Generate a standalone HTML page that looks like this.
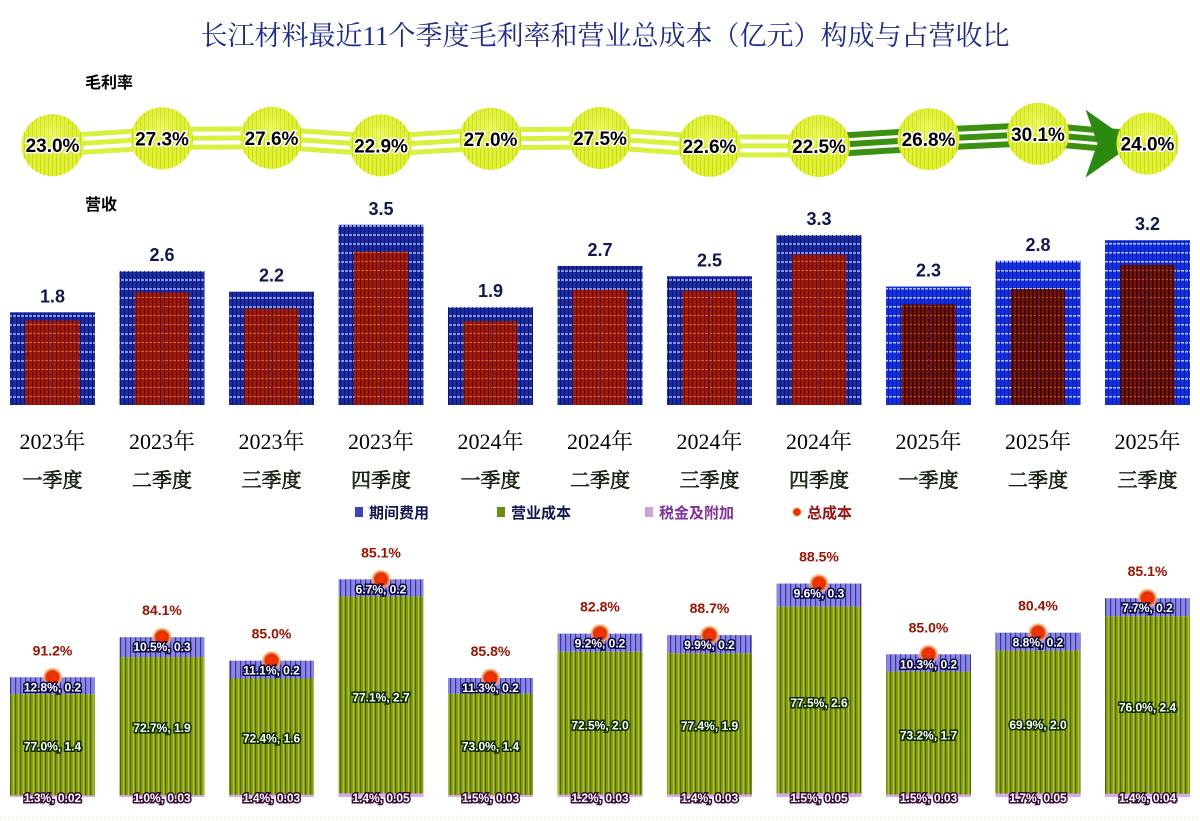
<!DOCTYPE html>
<html><head><meta charset="utf-8">
<style>
html,body{margin:0;padding:0;background:#fff;}
svg{display:block;font-family:"Liberation Sans","Noto Sans CJK SC",sans-serif;}
</style></head>
<body>
<svg id="chart" width="1200" height="821" viewBox="0 0 1200 821" xmlns="http://www.w3.org/2000/svg">
<defs>
<pattern id="blueP" width="4" height="9" patternUnits="userSpaceOnUse">
<rect width="4" height="9" fill="#1a2aa0"/><rect y="0" width="4" height="2" fill="#7f8fe8"/><rect x="0" width="1" height="9" fill="#0a1670"/></pattern>
<pattern id="blueP2" width="4" height="9" patternUnits="userSpaceOnUse">
<rect width="4" height="9" fill="#1230e0"/><rect y="0" width="4" height="1.5" fill="#b8c4ff"/><rect x="0" width="1" height="9" fill="#0a20b0"/></pattern>
<pattern id="redP" width="4" height="9" patternUnits="userSpaceOnUse">
<rect width="4" height="9" fill="#a01808"/><rect y="0" width="4" height="1" fill="#e06010"/><rect x="0" width="1" height="9" fill="#601008"/></pattern>
<pattern id="redP2" width="4" height="9" patternUnits="userSpaceOnUse">
<rect width="4" height="9" fill="#7a1208"/><rect y="0" width="4" height="1" fill="#d04010"/><rect x="0" width="1.5" height="9" fill="#300505"/></pattern>
<pattern id="greenP" width="5" height="5" patternUnits="userSpaceOnUse">
<rect width="5" height="5" fill="#8aa010"/><rect x="0" width="1.2" height="5" fill="#4a6a08"/><rect x="3" width="1" height="5" fill="#b0c030"/></pattern>
<pattern id="purpP" width="5" height="5" patternUnits="userSpaceOnUse">
<rect width="5" height="5" fill="#8a88e0"/><rect x="0" width="1.2" height="5" fill="#3a30b0"/></pattern>
<pattern id="ballP" width="4" height="4" patternUnits="userSpaceOnUse">
<rect width="4" height="4" fill="#e4f23a"/><rect x="0" width="1" height="4" fill="#c8dc10"/></pattern>
<radialGradient id="ballG" cx="50%" cy="35%" r="65%"><stop offset="0" stop-color="#f4ff80" stop-opacity="0.6"/><stop offset="1" stop-color="#c0d800" stop-opacity="0"/></radialGradient>
<radialGradient id="dotG"><stop offset="0" stop-color="#ff3300"/><stop offset="0.6" stop-color="#e03000"/><stop offset="0.8" stop-color="#f0a060"/><stop offset="1" stop-color="#ffd0a0" stop-opacity="0.3"/></radialGradient>
</defs>
<text x="605" y="45" text-anchor="middle" font-size="27" fill="#1a2a90" font-family="'Liberation Serif','Noto Serif CJK SC',serif">长江材料最近11个季度毛利率和营业总成本（亿元）构成与占营收比</text>
<text x="85" y="88" font-size="16" font-weight="bold" fill="#000">毛利率</text>
<text x="85" y="210" font-size="16" font-weight="bold" fill="#000">营收</text>
<g id="marginG"></g>
<g id="revG"></g>
<g id="legend"></g>
<g id="costG"></g>
</svg>
<script>
const quarters=["2023年|一季度","2023年|二季度","2023年|三季度","2023年|四季度","2024年|一季度","2024年|二季度","2024年|三季度","2024年|四季度","2025年|一季度","2025年|二季度","2025年|三季度"];
const margins=[23.0,27.3,27.6,22.9,27.0,27.5,22.6,22.5,26.8,30.1,24.0];
const revenue=[1.8,2.6,2.2,3.5,1.9,2.7,2.5,3.3,2.3,2.8,3.2];
const totalCostPct=[91.2,84.1,85.0,85.1,85.8,82.8,88.7,88.5,85.0,80.4,85.1];
const expPct=[12.8,10.5,11.1,6.7,11.3,9.2,9.9,9.6,10.3,8.8,7.7];
const expVal=[0.2,0.3,0.2,0.2,0.2,0.2,0.2,0.3,0.2,0.2,0.2];
const opPct=[77.0,72.7,72.4,77.1,73.0,72.5,77.4,77.5,73.2,69.9,76.0];
const opVal=[1.4,1.9,1.6,2.7,1.4,2.0,1.9,2.6,1.7,2.0,2.4];
const taxPct=[1.3,1.0,1.4,1.4,1.5,1.2,1.4,1.5,1.5,1.7,1.4];
const taxVal=[0.02,0.03,0.03,0.05,0.03,0.03,0.03,0.05,0.03,0.05,0.04];

const NS="http://www.w3.org/2000/svg";
function mk(tag,attrs,parent,text){const e=document.createElementNS(NS,tag);for(const k in attrs)e.setAttribute(k,attrs[k]);if(text!==undefined)e.textContent=text;parent.appendChild(e);return e;}
const xc=i=>52.5+i*109.5;
const yMargin=v=>146-(v-22.5)*1.6;
const yRev=v=>405-v*51.5;
const yCost=v=>797-v*73;
const barW=85;

// margin row
const mg=document.getElementById('marginG');
for(let i=0;i<margins.length-1;i++){
  const x1=xc(i),y1=yMargin(margins[i]),x2=xc(i+1),y2=yMargin(margins[i+1]);
  const dark=i>=7;
  for(const off of [-9,0,9]){
    const l=mk('line',{x1:x1,y1:y1+off,x2:x2,y2:y2+off,stroke:dark?'#3a9010':'#d8f040','stroke-width':dark?6:5},mg);
    
    
  }
}
{const i=margins.length-1;const x=xc(i)-22,y=yMargin(margins[i]);
 const a=mk('polygon',{points:`${x-40},${y-34} ${x+8},${y} ${x-40},${y+34} ${x-28},${y}`,fill:'#2a8a10'},mg);
 
 }
margins.forEach((v,i)=>{
  const x=xc(i),y=yMargin(v);
  const c=mk('circle',{cx:x,cy:y,r:31,fill:'url(#ballP)'},mg);
  
  
  mk('circle',{cx:x,cy:y,r:31,fill:'url(#ballG)'},mg);
  const t=mk('text',{x:x,y:y+7,'text-anchor':'middle','font-size':19,'font-weight':'bold',fill:'#000',stroke:'#fff','stroke-width':3,'paint-order':'stroke'},mg,v.toFixed(1)+'%');
  
  
});

// revenue bars
const rg=document.getElementById('revG');
revenue.forEach((v,i)=>{
  const x=xc(i)-barW/2,top=yRev(v);
  const b=mk('rect',{x:x,y:top,width:barW,height:405-top,fill:i>=8?'url(#blueP2)':'url(#blueP)'},rg);
  
  
  const cv=v*totalCostPct[i]/100,ct=yRev(cv);
  const r=mk('rect',{x:xc(i)-27,y:ct,width:54,height:405-ct,fill:i>=8?'url(#redP2)':'url(#redP)'},rg);
  
  
  mk('line',{x1:xc(i),y1:ct,x2:xc(i),y2:405,stroke:'#1a2aa0','stroke-width':1,'stroke-dasharray':'3,3'},rg);
  const t=mk('text',{x:xc(i),y:top-10,'text-anchor':'middle','font-size':18,'font-weight':'bold',fill:'#101850'},rg,v.toFixed(1));
  
  
  const [yr,q]=quarters[i].split('|');
  const t1=mk('text',{x:xc(i),y:449,'text-anchor':'middle','font-size':22,fill:'#000','font-family':"'Liberation Serif','Noto Serif CJK SC',serif"},rg,yr);
  
  
  const t2=mk('text',{x:xc(i),y:487,'text-anchor':'middle','font-size':20,fill:'#2a5a10',stroke:'#000','stroke-width':0.6,'font-family':"'Noto Serif CJK SC',serif"},rg,q);
  
  
});

// legend
const lg=document.getElementById('legend');
const leg=[["期间费用",355,'#4040c0'],["营业成本",497,'#6a9010'],["税金及附加",645,'#d0a0e0'],["总成本",793,'#e03000']];
leg.forEach(([n,x,c],k)=>{
  const g=mk('g',{},lg);
  
  
  if(k===3) mk('circle',{cx:x+4,cy:512,r:5,fill:'url(#dotG)'},g);
  else mk('rect',{x:x,y:507,width:8,height:10,fill:c},g);
  mk('text',{x:x+14,y:518,'font-size':15,'font-weight':'bold',fill:k===3?'#a01010':(k===2?'#8030a0':'#101850')},g,n);
});

// cost composition bars
const cg=document.getElementById('costG');
mk('line',{x1:0,y1:818,x2:1200,y2:818,stroke:'#e8f0a0','stroke-width':1,'stroke-dasharray':'2,2'},cg);
revenue.forEach((v,i)=>{
  const x=xc(i)-barW/2;
  const tax=v*taxPct[i]/100,op=v*opPct[i]/100,exp=v*expPct[i]/100;
  const yTaxTop=yCost(tax),yOpTop=yCost(tax+op),yExpTop=yCost(tax+op+exp);
  const g=mk('rect',{x:x,y:yOpTop,width:barW,height:797-yOpTop,fill:'url(#greenP)'},cg);
  
  
  const p=mk('rect',{x:x,y:yExpTop,width:barW,height:yOpTop-yExpTop,fill:'url(#purpP)'},cg);
  
  
  const tb=mk('rect',{x:x,y:yTaxTop,width:barW,height:797-yTaxTop,fill:'#d8a8f0'},cg);
  
  
  const d=mk('circle',{cx:xc(i),cy:yExpTop,r:10,fill:'url(#dotG)'},cg);
  
  
  const lab=(s,y,fs,fill,stroke,name)=>{const t=mk('text',{x:xc(i),y:y,'text-anchor':'middle','font-size':fs,'font-weight':'bold',fill:fill,stroke:stroke,'stroke-width':3,'paint-order':'stroke'},cg,s);
    
    };
  lab(expPct[i].toFixed(1)+'%, '+expVal[i].toFixed(1),yExpTop+14,12,'#fff','#0a0a40','period-expense-label');
  lab(opPct[i].toFixed(1)+'%, '+opVal[i].toFixed(1),(yOpTop+797)/2+5,12,'#fff','#0a2a00','operating-cost-label');
  lab(taxPct[i].toFixed(1)+'%, '+taxVal[i].toFixed(2),802,12,'#fff','#3a0a3a','tax-label');
  const t=mk('text',{x:xc(i),y:yExpTop-22,'text-anchor':'middle','font-size':14,'font-weight':'bold',fill:'#a01000'},cg,totalCostPct[i].toFixed(1)+'%');
  
  
});
</script>
</body></html>
